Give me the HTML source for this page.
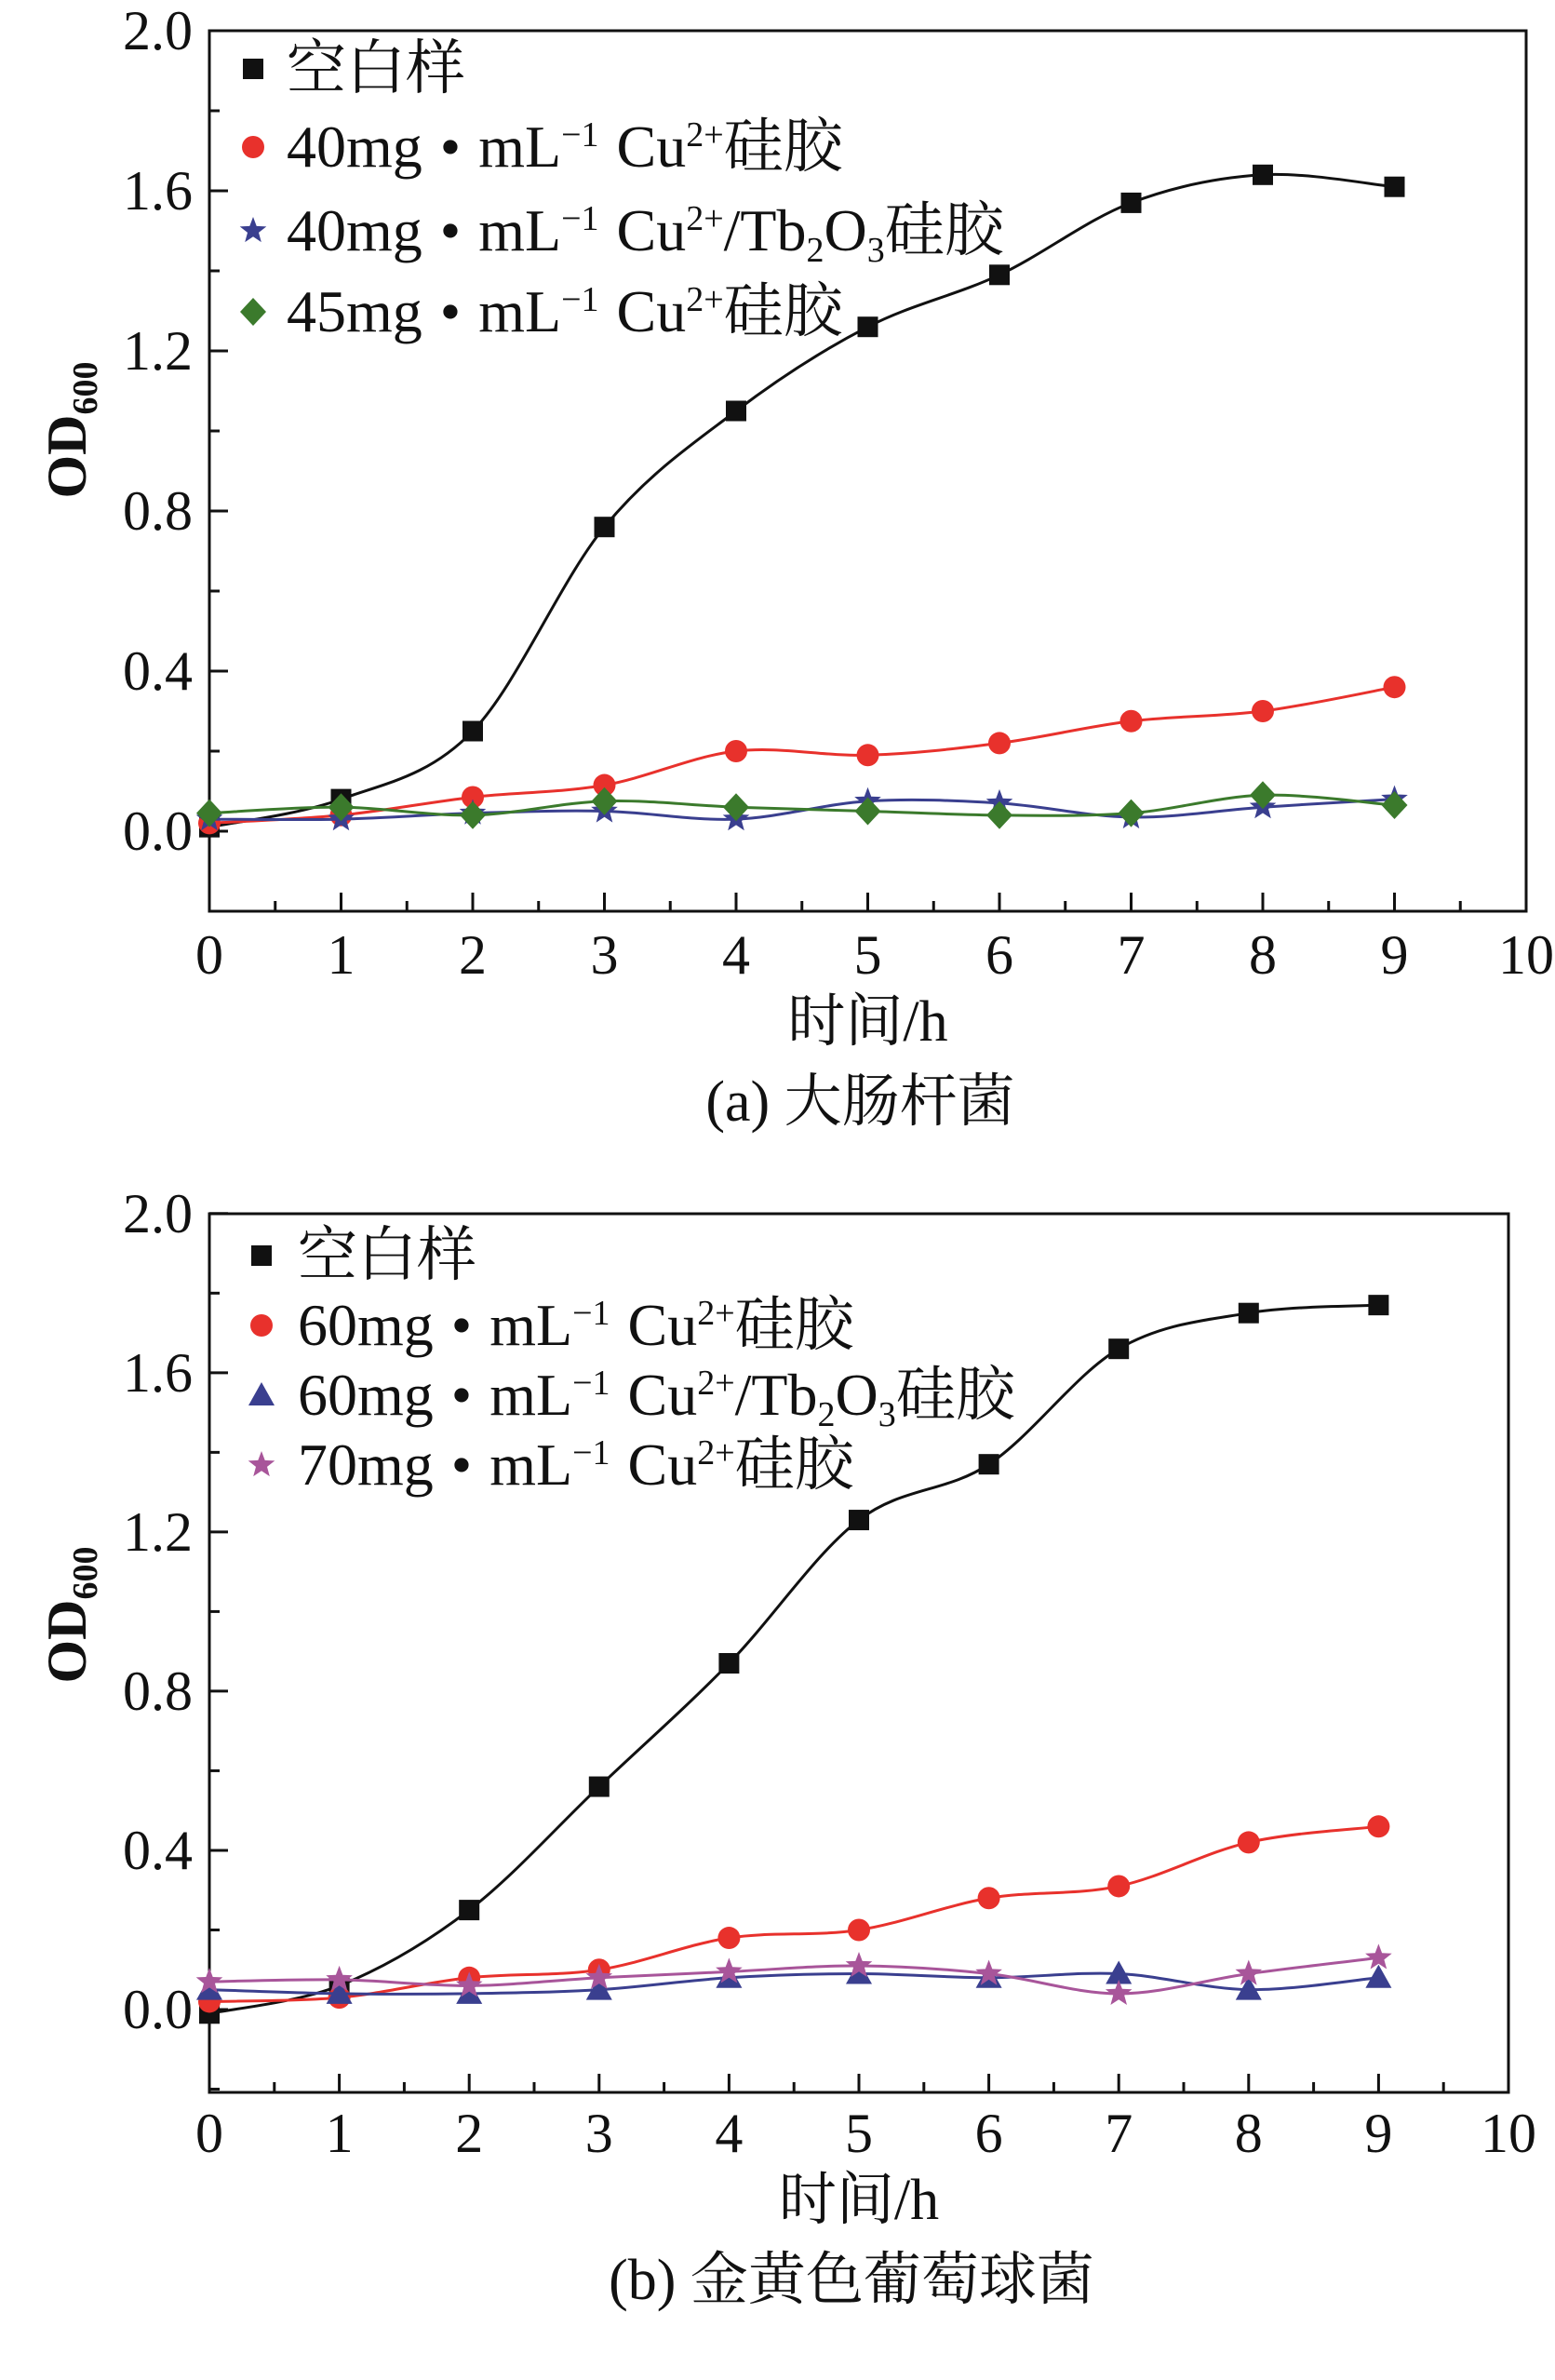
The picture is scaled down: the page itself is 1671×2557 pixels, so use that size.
<!DOCTYPE html>
<html><head><meta charset="utf-8">
<style>
html,body{margin:0;padding:0;background:#fff;}
svg{display:block;}
text{font-family:"Liberation Serif","Noto Serif CJK SC",serif;fill:#111;}
</style></head>
<body>
<svg id="svg" width="1671" height="2557" viewBox="0 0 1671 2557" xmlns="http://www.w3.org/2000/svg"></svg>
<script>
const hours = [0,1,2,3,4,5,6,7,8,9];
const xTicks = [0,1,2,3,4,5,6,7,8,9,10];
const yTicks = [0.0,0.4,0.8,1.2,1.6,2.0];
const yTickLabels = ["0.0","0.4","0.8","1.2","1.6","2.0"];
// chart a
const aBlank = [0.01,0.08,0.25,0.76,1.05,1.26,1.39,1.57,1.64,1.61];
const aCu40 = [0.02,0.04,0.085,0.115,0.20,0.19,0.22,0.275,0.30,0.36];
const aTb40 = [0.03,0.03,0.045,0.05,0.03,0.075,0.07,0.035,0.06,0.08];
const aCu45 = [0.045,0.06,0.04,0.075,0.06,0.05,0.04,0.045,0.09,0.065];
const aLabels = ["40mg", "40mg", "45mg"];
// chart b
const bBlank = [-0.01,0.06,0.25,0.56,0.87,1.23,1.37,1.66,1.75,1.77];
const bCu60 = [0.02,0.03,0.08,0.10,0.18,0.20,0.28,0.31,0.42,0.46];
const bTb60 = [0.05,0.04,0.04,0.05,0.08,0.09,0.08,0.09,0.05,0.08];
const bCu70 = [0.07,0.075,0.06,0.08,0.095,0.11,0.09,0.04,0.09,0.13];
const bLabels = ["60mg", "60mg", "70mg"];

const NS="http://www.w3.org/2000/svg";
const svg=document.getElementById('svg');
function el(tag,attrs,parent){const e=document.createElementNS(NS,tag);for(const k in attrs)e.setAttribute(k,attrs[k]);(parent||svg).appendChild(e);return e;}

function smoothPath(pts){
  let d=`M${pts[0][0]},${pts[0][1]}`;
  for(let i=0;i<pts.length-1;i++){
    const p0=pts[Math.max(0,i-1)],p1=pts[i],p2=pts[i+1],p3=pts[Math.min(pts.length-1,i+2)];
    const c1=[p1[0]+(p2[0]-p0[0])/6,p1[1]+(p2[1]-p0[1])/6];
    const c2=[p2[0]-(p3[0]-p1[0])/6,p2[1]-(p3[1]-p1[1])/6];
    d+=` C${c1[0]},${c1[1]} ${c2[0]},${c2[1]} ${p2[0]},${p2[1]}`;
  }
  return d;
}
function star(cx,cy,r){let p=[];for(let i=0;i<10;i++){const a=-Math.PI/2+i*Math.PI/5;const rr=i%2?r*0.42:r;p.push((cx+rr*Math.cos(a)).toFixed(1)+','+(cy+rr*Math.sin(a)).toFixed(1));}return p.join(' ');}
function marker(g,type,x,y,color){
  let m;
  if(type==='square') m=el('rect',{x:x-11,y:y-11,width:22,height:22,fill:color},g);
  else if(type==='circle') m=el('circle',{cx:x,cy:y,r:12,fill:color},g);
  else if(type==='star') m=el('polygon',{points:star(x,y,15),fill:color},g);
  else if(type==='diamond') m=el('polygon',{points:`${x},${y-15} ${x+14},${y} ${x},${y+15} ${x-14},${y}`,fill:color},g);
  else if(type==='triangle') m=el('polygon',{points:`${x},${y-14} ${x+14},${y+11} ${x-14},${y+11}`,fill:color},g);
  
  
  return m;
}

function drawChart(cfg){
  const {name,L,R,T,B,y0,yUnit,series,legendX,legendTextX,legendY,caption,captionY,xLabelY,xTitleY,yTitleY,labels}=cfg;
  const g=el('g',{});
  
  
  const xs=v=>L+(R-L)*v/10;
  const ys=v=>y0-v*yUnit;
  const frame=el('rect',{x:L,y:T,width:R-L,height:B-T,fill:'none',stroke:'#111','stroke-width':3},g);
  
  
  xTicks.forEach(v=>{
    el('line',{x1:xs(v),x2:xs(v),y1:B,y2:B-20,stroke:'#111','stroke-width':3},g);
    if(v<10) el('line',{x1:xs(v+0.5),x2:xs(v+0.5),y1:B,y2:B-11,stroke:'#111','stroke-width':3},g);
    const t=el('text',{x:xs(v),y:xLabelY,'font-size':60,'text-anchor':'middle'},g);
    t.textContent=v;
    
    
  });
  yTicks.forEach((v,i)=>{
    el('line',{x1:L,x2:L+20,y1:ys(v),y2:ys(v),stroke:'#111','stroke-width':3},g);
    el('line',{x1:L,x2:L+11,y1:ys(v-0.2),y2:ys(v-0.2),stroke:'#111','stroke-width':3},g);
    const t=el('text',{x:L-18,y:ys(v)+20,'font-size':60,'text-anchor':'end'},g);
    t.textContent=yTickLabels[i];
    
    
  });
  const xt=el('text',{x:(L+R)/2,y:xTitleY,'font-size':62,'text-anchor':'middle'},g);
  xt.textContent='时间/h';
  
  
  const yt=el('text',{x:0,y:0,'font-size':60,'font-weight':'bold','text-anchor':'middle',transform:`translate(92,${yTitleY}) rotate(-90)`},g);
  yt.innerHTML='OD<tspan font-size="38" dy="12">600</tspan>';
  
  
  const cp=el('text',{x:(L+R)/2-8,y:captionY,'font-size':62,'text-anchor':'middle'},g);
  cp.textContent=caption;
  
  
  series.forEach(s=>{
    const pts=hours.map((h,i)=>[xs(h),ys(s.values[i])]);
    const p=el('path',{d:smoothPath(pts),fill:'none',stroke:s.color,'stroke-width':3},g);
    
    
    pts.forEach(pt=>marker(g,s.marker,pt[0],pt[1],s.color));
  });
  const texts=['空白样',
    `${labels[0]} • mL<tspan font-size="38" dy="-22">−1</tspan><tspan dy="22"> Cu</tspan><tspan font-size="38" dy="-22">2+</tspan><tspan dy="22">硅胶</tspan>`,
    `${labels[1]} • mL<tspan font-size="38" dy="-22">−1</tspan><tspan dy="22"> Cu</tspan><tspan font-size="38" dy="-22">2+</tspan><tspan dy="22">/Tb</tspan><tspan font-size="38" dy="12">2</tspan><tspan dy="-12">O</tspan><tspan font-size="38" dy="12">3</tspan><tspan dy="-12">硅胶</tspan>`,
    `${labels[2]} • mL<tspan font-size="38" dy="-22">−1</tspan><tspan dy="22"> Cu</tspan><tspan font-size="38" dy="-22">2+</tspan><tspan dy="22">硅胶</tspan>`];
  series.forEach((s,i)=>{
    const y=legendY[i];
    marker(g,s.marker,legendX,y,s.color);
    const t=el('text',{x:legendTextX,y:y+21,'font-size':64,'word-spacing':3},g);
    t.innerHTML=texts[i];
    
    
  });
}

drawChart({name:'chart-a-ecoli',L:225,R:1640,T:33,B:979,y0:893,yUnit:430,
  series:[{name:'blank',values:aBlank,color:'#111',marker:'square'},
          {name:'cu40',values:aCu40,color:'#e8312c',marker:'circle'},
          {name:'tb40',values:aTb40,color:'#3a3f8f',marker:'star'},
          {name:'cu45',values:aCu45,color:'#3b7a2c',marker:'diamond'}],
  labels:aLabels,legendX:272,legendTextX:308,
  legendY:[74,158,248,335],caption:'(a) 大肠杆菌',captionY:1204,xLabelY:1046,xTitleY:1118,yTitleY:462});
drawChart({name:'chart-b-saureus',L:225,R:1621,T:1304,B:2248,y0:2159,yUnit:427.6,
  series:[{name:'blank',values:bBlank,color:'#111',marker:'square'},
          {name:'cu60',values:bCu60,color:'#e8312c',marker:'circle'},
          {name:'tb60',values:bTb60,color:'#3a3f8f',marker:'triangle'},
          {name:'cu70',values:bCu70,color:'#a8559a',marker:'star'}],
  labels:bLabels,legendX:281,legendTextX:320,
  legendY:[1349,1424,1499,1574],caption:'(b) 金黄色葡萄球菌',captionY:2470,xLabelY:2312,xTitleY:2384,yTitleY:1735});
</script>
</body></html>
